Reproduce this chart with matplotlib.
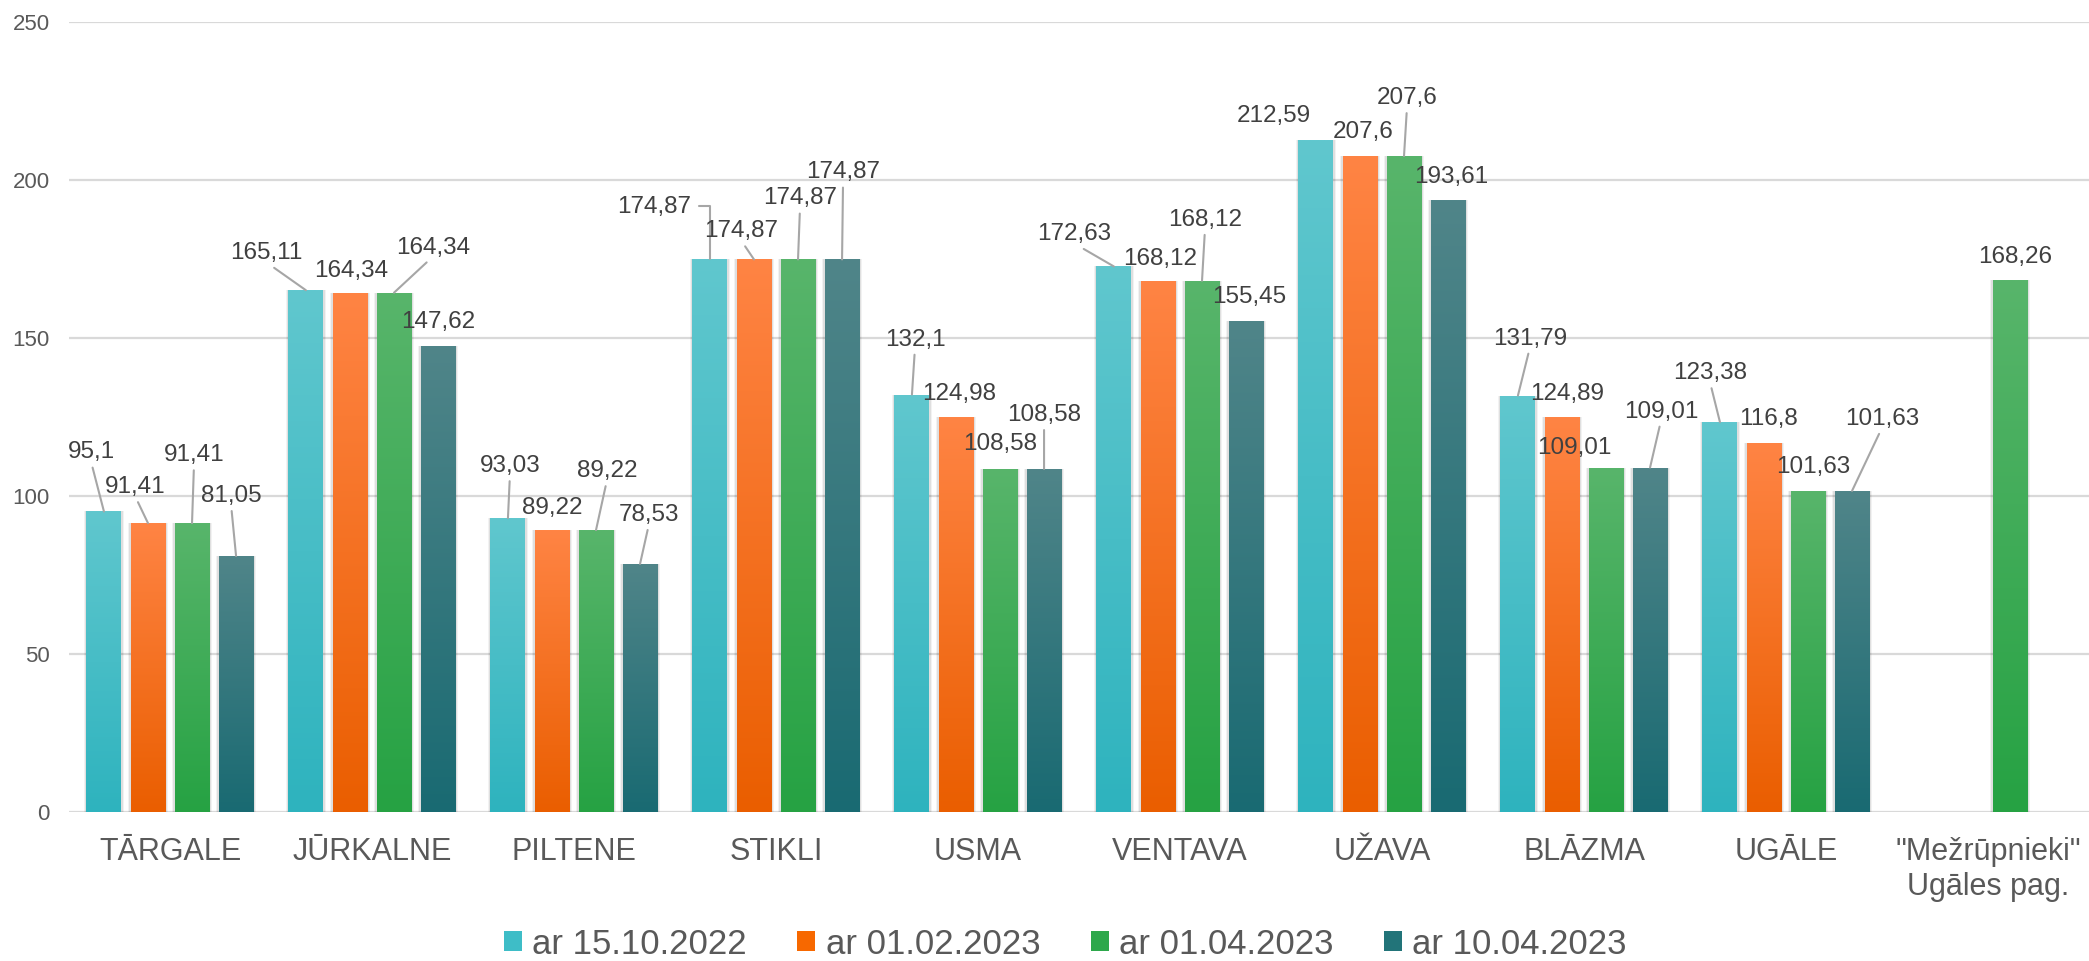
import numpy as np
import matplotlib
matplotlib.use("Agg")
import matplotlib.pyplot as plt
from matplotlib.colors import LinearSegmentedColormap
from matplotlib.patches import Patch

plt.rcParams['font.family'] = ['Liberation Sans', 'DejaVu Sans']

categories = ["TĀRGALE", "JŪRKALNE", "PILTENE", "STIKLI", "USMA", "VENTAVA",
              "UŽAVA", "BLĀZMA", "UGĀLE", "\"Mežrūpnieki\"\nUgāles pag."]
series = ["ar 15.10.2022", "ar 01.02.2023", "ar 01.04.2023", "ar 10.04.2023"]
s1 = [95.1, 165.11, 93.03, 174.87, 132.1, 172.63, 212.59, 131.79, 123.38, None]
s2 = [91.41, 164.34, 89.22, 174.87, 124.98, 168.12, 207.6, 124.89, 116.8, None]
s3 = [91.41, 164.34, 89.22, 174.87, 108.58, 168.12, 207.6, 109.01, 101.63, 168.26]
s4 = [81.05, 147.62, 78.53, 174.87, 108.58, 155.45, 193.61, 109.01, 101.63, None]
values = [s1, s2, s3, s4]

# gradient colours (top, bottom) per series
top_cols = ["#60C7CE", "#FF8444", "#58B56B", "#508589"]
bot_cols = ["#2EB3BE", "#EA5E00", "#26A243", "#196A72"]
leg_cols = ["#3EBDC7", "#F76800", "#2DA84B", "#227479"]

# label offsets in pixels (dx, up) as placed in the original chart
lab_off = [
    [(-13, 59), (-40, 37), (2, 52), (-56, 52), (3, 55), (-40, 32), (-42, 24), (12, 57), (-10, 49), None],
    [(-13, 36), (1, 22), (0, 22), (-13, 28), (3, 23), (2, 22), (3, 24), (5, 23), (5, 24), None],
    [(2, 68), (39, 45), (11, 59), (2, 61), (0, 25), (3, 61), (3, 58), (-32, 20), (5, 24), (5, 23)],
    [(-5, 60), (0, 24), (9, 49), (1, 87), (0, 54), (3, 24), (3, 23), (11, 56), (30, 72), None],
]

fig = plt.figure(figsize=(20.89, 9.61), dpi=100)
ax = fig.add_axes([69 / 2089, 149 / 961, 1 - 69 / 2089, 790 / 961])

x = np.arange(len(categories))
step = 0.218
w = 0.173
grad = np.linspace(0, 1, 256).reshape(-1, 1)

for i in range(4):
    cmap = LinearSegmentedColormap.from_list("g%d" % i, [bot_cols[i], top_cols[i]])
    for j, v in enumerate(values[i]):
        if v is None:
            continue
        xc = x[j] + (i - 1.5) * step
        # soft shadow
        ax.bar(xc, v, width=w + 0.024, color="black", alpha=0.05, zorder=2)
        ax.bar(xc, v, width=w + 0.012, color="black", alpha=0.08, zorder=2)
        b = ax.bar(xc, v, width=w, color=bot_cols[i], zorder=3)[0]
        im = ax.imshow(grad, cmap=cmap, origin="lower", aspect="auto",
                       extent=[xc - w / 2, xc + w / 2, 0, v], zorder=3.5)
        im.set_clip_path(b)
        dx, dy = lab_off[i][j]
        txt = f"{v:g}".replace(".", ",")
        arrow = None
        if dy > 27:
            arrow = dict(arrowstyle="-", color="#A6A6A6", lw=1.5,
                         relpos=(0.5, 0.1), shrinkA=1, shrinkB=0)
            if dx < -50:
                # elbow leader (label sits to the left)
                arrow.update(relpos=(1.0, 0.55), shrinkA=4,
                             connectionstyle="angle,angleA=0,angleB=90,rad=0")
        ax.annotate(txt, xy=(xc, v), xytext=(dx, dy), textcoords="offset pixels",
                    ha="center", va="center", fontsize=17.5, color="#404040",
                    arrowprops=arrow, zorder=5)

ax.set_xlim(-0.5, len(categories) - 0.5)
ax.set_ylim(0, 250)
ax.set_yticks(np.arange(0, 251, 50))
ax.set_xticks(x)
ax.set_xticklabels(categories)
ax.set_axisbelow(True)
ax.yaxis.grid(True, color="#D9D9D9", lw=1.6)
ax.xaxis.grid(False)
for s in ax.spines.values():
    s.set_visible(False)
ax.tick_params(axis="y", length=0, pad=14, labelsize=16, labelcolor="#595959")
ax.tick_params(axis="x", length=0, pad=18, labelsize=22, labelcolor="#595959")

handles = [Patch(facecolor=c) for c in leg_cols]
fig.legend(handles, series, loc="center", bbox_to_anchor=(0.51, 1 - 944 / 961),
           ncol=4, frameon=False, fontsize=25, handlelength=0.52, handleheight=0.52,
           handletextpad=0.3, columnspacing=1.45, labelcolor="#595959")

fig.savefig("out.png", dpi=100)
